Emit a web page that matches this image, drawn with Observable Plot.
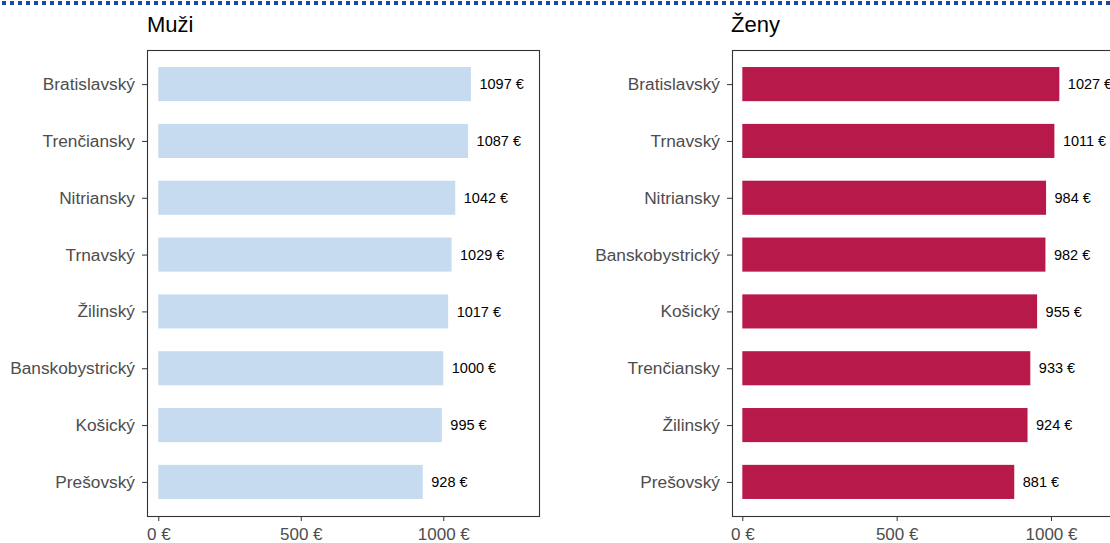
<!DOCTYPE html>
<html>
<head>
<meta charset="utf-8">
<script src="https://cdn.jsdelivr.net/npm/d3@7"></script>
<script src="https://cdn.jsdelivr.net/npm/@observablehq/plot@0.6"></script>
<style>
  html, body { margin: 0; padding: 0; background: #fff; }
  #wrap { position: relative; width: 1110px; height: 543px; overflow: hidden; background: #fff; font-family: "Liberation Sans", Arial, sans-serif; }
  #dots { position: absolute; left: 2px; top: 1px; width: 1110px; height: 4px;
          background: repeating-linear-gradient(90deg, #1b4a9f 0 4px, transparent 4px 8px); }
  .title { position: absolute; top: 14px; font-size: 22px; line-height: 22px; color: #000; white-space: nowrap; }
  .panel { position: absolute; top: 0; }
  .panel svg { max-width: none !important; display: block; }
</style>
</head>
<body>
<div id="wrap">
  <div id="dots"></div>
  <div class="panel" id="p1" style="left:0px; width:560px"></div>
  <div class="panel" id="p2" style="left:560px; width:580px"></div>
  <div class="title" id="t1" style="left:147px"></div>
  <div class="title" id="t2" style="left:731px"></div>
</div>
<script>
// ---- data ----
const titleMen = "Muži";
const titleWomen = "Ženy";
const regionsMen = ["Bratislavský", "Trenčiansky", "Nitriansky", "Trnavský", "Žilinský", "Banskobystrický", "Košický", "Prešovský"];
const valuesMen = [1097, 1087, 1042, 1029, 1017, 1000, 995, 928];
const regionsWomen = ["Bratislavský", "Trnavský", "Nitriansky", "Banskobystrický", "Košický", "Trenčiansky", "Žilinský", "Prešovský"];
const valuesWomen = [1027, 1011, 984, 982, 955, 933, 924, 881];
const xTicks = [0, 500, 1000];
const colorMen = "#c6dbef";
const colorWomen = "#b8194b";

document.getElementById("t1").textContent = titleMen;
document.getElementById("t2").textContent = titleWomen;

function panel(regions, values, fill, xDomain, width, marginLeft, marginRight) {
  const data = regions.map((r, i) => ({region: r, value: values[i]}));
  return Plot.plot({
    width,
    height: 543,
    marginLeft,
    marginRight,
    marginTop: 50,
    marginBottom: 27,
    style: {fontFamily: "'Liberation Sans', Arial, sans-serif", fontSize: "17px", background: "transparent", overflow: "visible"},
    x: {domain: xDomain, nice: false, label: null},
    y: {type: "band", domain: regions, paddingInner: 0.4, paddingOuter: 0.3, align: 0.5, round: false, label: null},
    marks: [
      Plot.barX(data, {x: "value", y: "region", fill}),
      Plot.text(data, {x: "value", y: "region", text: d => `${d.value} €`, dx: 8, textAnchor: "start", fill: "#000", fontSize: 14.5}),
      Plot.axisX({ticks: xTicks, tickFormat: d => `${d} €`, tickSize: 5, tickPadding: 6, stroke: "#333", fill: "#4d4d4d", fontSize: 17, label: null}),
      Plot.axisY({tickSize: 5, tickPadding: 7.5, stroke: "#333", fill: "#4d4d4d", fontSize: 17.3, label: null}),
      Plot.frame({stroke: "#333", strokeWidth: 1.1})
    ]
  });
}

document.getElementById("p1").appendChild(panel(regionsMen, valuesMen, colorMen, [-39.6, 1335.8], 560, 147, 21));
document.getElementById("p2").appendChild(panel(regionsWomen, valuesWomen, colorWomen, [-33.4, 1236.5], 580, 172, 16));
</script>
</body>
</html>
